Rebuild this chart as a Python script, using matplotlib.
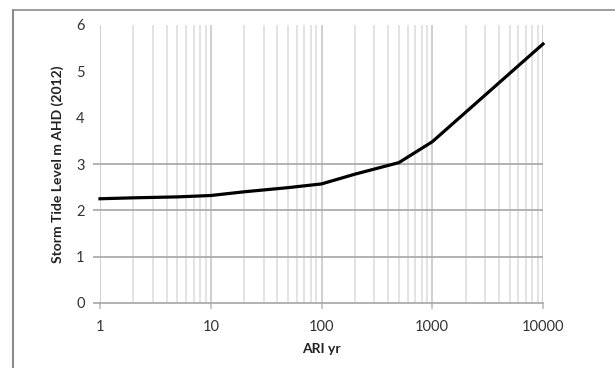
import matplotlib
matplotlib.use("Agg")
import matplotlib.pyplot as plt
from matplotlib.ticker import FixedLocator, NullFormatter
from matplotlib.lines import Line2D

ari_years = [1, 2, 5, 10, 20, 50, 100, 200, 500, 1000, 10000]
storm_tide = [2.25, 2.27, 2.29, 2.32, 2.40, 2.49, 2.57, 2.78, 3.03, 3.48, 5.59]
x_tick_labels = ["1", "10", "100", "1000", "10000"]
x_ticks = [1, 10, 100, 1000, 10000]
y_ticks = [0, 1, 2, 3, 4, 5, 6]
y_grid = [1, 2, 3]

plt.rcParams['font.family'] = ['Lato', 'DejaVu Sans']

fig = plt.figure(figsize=(6.15, 3.68), dpi=100)
ax = fig.add_axes([100/615, 1-303/368, 443/615, 278/368])

ax.set_xscale('log')
ax.set_xlim(1, 10000)
ax.set_ylim(0, 6)

minor = [m * 10**e for e in range(0, 4) for m in range(2, 10)]
ax.xaxis.set_minor_locator(FixedLocator(minor))
ax.xaxis.set_minor_formatter(NullFormatter())
ax.set_xticks(x_ticks)
ax.set_xticklabels(x_tick_labels)
ax.set_yticks(y_ticks)

for xv in minor:
    ax.axvline(xv, color='#dedede', lw=1.2, zorder=0)
for xv in x_ticks:
    ax.axvline(xv, color='#cfcfcf', lw=1.4, zorder=0)
for yv in y_grid:
    ax.axhline(yv, color='#a6a6a6', lw=1.2, zorder=1)

for s in ['top', 'right', 'left']:
    ax.spines[s].set_visible(False)
ax.spines['bottom'].set_color('#a6a6a6')
ax.spines['bottom'].set_linewidth(1.2)

ax.tick_params(axis='x', which='major', direction='out', length=4, width=1.2,
               color='#bfbfbf', labelsize=10.5, labelcolor='#333333', pad=8)
ax.tick_params(axis='x', which='minor', length=0)
ax.tick_params(axis='y', direction='out', length=5, width=1.2, color='#a6a6a6',
               labelsize=10.5, labelcolor='#333333', pad=6)
for i, t in enumerate(ax.yaxis.get_major_ticks()):
    if y_ticks[i] > 3:
        t.tick1line.set_visible(False)

ax.plot(ari_years, storm_tide, color='black', lw=2.3, zorder=3,
        solid_joinstyle='round', clip_on=False)

ax.set_xlabel('ARI yr', fontsize=10, fontweight='bold', color='#222222', labelpad=7)
ax.set_ylabel('Storm Tide Level m AHD (2012)', fontsize=10, fontweight='bold',
              color='#222222', labelpad=9)

# outer chart border (left and top)
fig.add_artist(Line2D([13/615, 13/615], [0, 1-10/368], transform=fig.transFigure,
                      color='#8c8c8c', lw=1.5))
fig.add_artist(Line2D([13/615, 1], [1-10/368, 1-10/368], transform=fig.transFigure,
                      color='#8c8c8c', lw=1.2))

fig.savefig('out.png', dpi=100)
